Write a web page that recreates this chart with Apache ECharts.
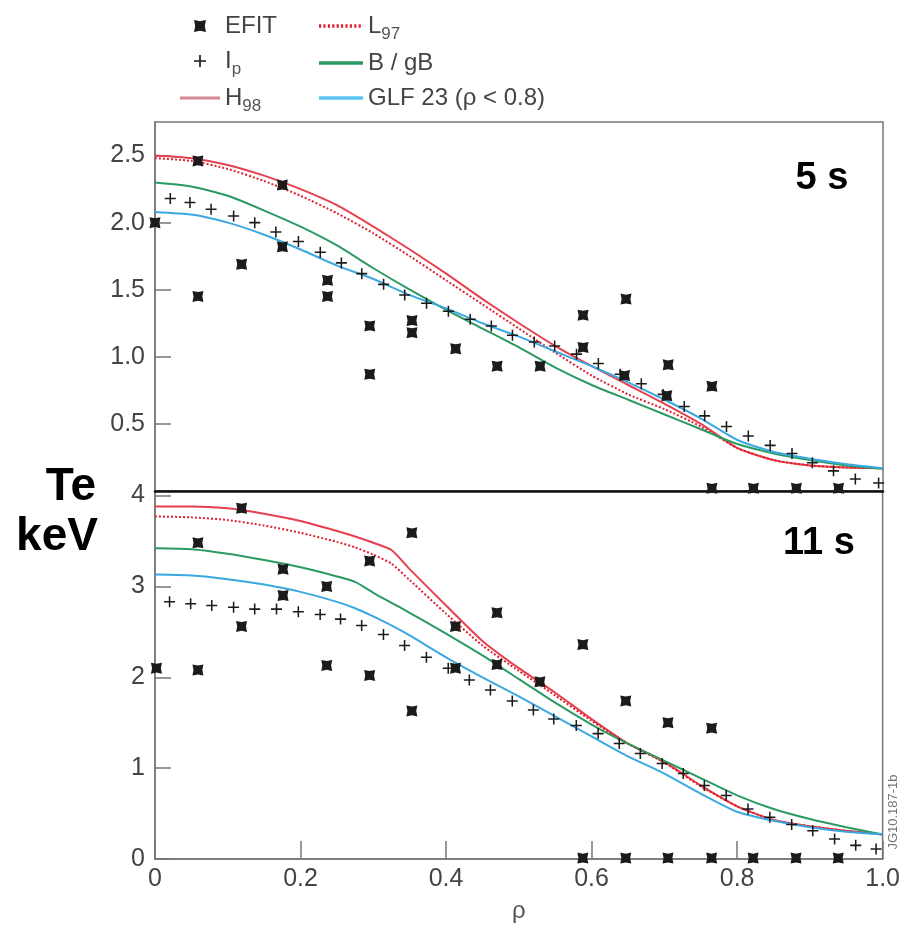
<!DOCTYPE html>
<html>
<head>
<meta charset="utf-8">
<script src="https://cdn.jsdelivr.net/npm/echarts@6.0.0/dist/echarts.min.js"></script>
<style>
    html,body{margin:0;padding:0;background:#fff;}
    #chart{width:903px;height:930px;}
</style>
</head>
<body>
<div id="chart"></div>
<script>
// x ticks
let rho_ticks = [0, 0.2, 0.4, 0.6, 0.8, 1.0]

// 5 s panel (top)
let rho_5 = [0,0.05,0.1,0.15,0.2,0.25,0.3,0.35,0.4,0.45,0.5,0.55,0.6,0.65,0.7,0.75,0.8,0.85,0.9,0.95,1.0]
let h98_5 = [2.50,2.48,2.43,2.35,2.25,2.13,1.97,1.80,1.62,1.43,1.25,1.08,0.93,0.79,0.65,0.50,0.32,0.23,0.19,0.175,0.17]
let l97_5 = [2.48,2.46,2.40,2.31,2.20,2.07,1.92,1.75,1.57,1.39,1.21,1.03,0.86,0.72,0.61,0.48,0.32,0.23,0.19,0.175,0.17]
let bgb_5 = [2.30,2.27,2.20,2.09,1.97,1.83,1.66,1.50,1.35,1.21,1.07,0.92,0.79,0.68,0.57,0.46,0.35,0.28,0.23,0.19,0.165]
let glf_5 = [2.08,2.06,2.00,1.91,1.80,1.68,1.58,1.46,1.36,1.25,1.15,1.04,0.93,0.81,0.68,0.54,0.38,0.29,0.24,0.20,0.17]

let efit_rho_5 = [0.0,0.059,0.059,0.119,0.175,0.175,0.237,0.237,0.295,0.295,0.353,0.353,0.413,0.470,0.529,0.588,0.588,0.647,0.645,0.705,0.703,0.765,0.765,0.822,0.881,0.939]
let efit_5 = [2.00,2.46,1.45,1.69,2.28,1.82,1.57,1.45,1.23,0.87,1.27,1.18,1.06,0.93,0.93,1.31,1.07,1.43,0.86,0.94,0.71,0.78,0.02,0.02,0.02,0.02]

let ip_rho_5 = [0.021,0.048,0.077,0.108,0.137,0.166,0.197,0.227,0.256,0.284,0.314,0.343,0.373,0.403,0.433,0.462,0.491,0.521,0.549,0.579,0.609,0.639,0.668,0.698,0.727,0.755,0.785,0.815,0.845,0.875,0.903,0.932,0.962,0.994]
let ip_5 = [2.18,2.15,2.10,2.05,2.00,1.93,1.86,1.78,1.70,1.62,1.54,1.46,1.40,1.34,1.28,1.23,1.16,1.11,1.08,1.02,0.95,0.87,0.80,0.72,0.63,0.56,0.48,0.41,0.34,0.28,0.21,0.15,0.09,0.06]

// 11 s panel (bottom)
let rho_11 = [0,0.05,0.1,0.15,0.2,0.25,0.275,0.3,0.325,0.35,0.4,0.45,0.5,0.55,0.6,0.65,0.7,0.75,0.8,0.85,0.9,0.95,1.0]
let h98_11 = [3.88,3.88,3.86,3.80,3.72,3.61,3.55,3.48,3.40,3.19,2.79,2.40,2.10,1.83,1.54,1.27,1.07,0.81,0.58,0.43,0.36,0.31,0.27]
let l97_11 = [3.77,3.76,3.73,3.67,3.59,3.49,3.43,3.35,3.25,3.07,2.70,2.35,2.07,1.80,1.52,1.27,1.06,0.80,0.58,0.43,0.36,0.31,0.27]
let bgb_11 = [3.42,3.41,3.36,3.29,3.21,3.11,3.05,2.93,2.82,2.71,2.48,2.24,1.98,1.72,1.48,1.27,1.08,0.89,0.70,0.55,0.44,0.35,0.27]
let glf_11 = [3.13,3.12,3.08,3.02,2.94,2.83,2.76,2.67,2.57,2.46,2.22,2.00,1.79,1.57,1.35,1.13,0.94,0.72,0.52,0.42,0.35,0.30,0.27]

let efit_rho_11 = [0.002,0.059,0.059,0.119,0.119,0.176,0.176,0.236,0.236,0.295,0.295,0.353,0.353,0.413,0.413,0.470,0.470,0.529,0.588,0.647,0.705,0.765,0.588,0.647,0.705,0.765,0.822,0.881,0.939]
let efit_11 = [2.10,3.48,2.08,3.86,2.56,3.19,2.90,3.00,2.13,3.28,2.02,3.59,1.63,2.56,2.10,2.71,2.14,1.95,2.36,1.74,1.50,1.44,0.01,0.01,0.01,0.01,0.01,0.01,0.01]

let ip_rho_11 = [0.020,0.049,0.078,0.108,0.137,0.167,0.197,0.227,0.255,0.284,0.314,0.343,0.373,0.403,0.432,0.461,0.491,0.520,0.548,0.579,0.609,0.638,0.667,0.697,0.726,0.755,0.785,0.815,0.845,0.875,0.904,0.934,0.963,0.991]
let ip_11 = [2.83,2.81,2.79,2.77,2.75,2.75,2.72,2.69,2.64,2.57,2.47,2.35,2.22,2.10,1.97,1.86,1.74,1.64,1.54,1.47,1.38,1.27,1.16,1.05,0.94,0.81,0.70,0.55,0.46,0.38,0.31,0.22,0.15,0.11]

let sym_efit = 'path://M0,0 L5,1 L10,0 L9,5 L10,10 L5,9 L0,10 L1,5 Z'
let sym_ip = 'path://M4.3,0 h1.4 v4.3 h4.3 v1.4 h-4.3 v4.3 h-1.4 v-4.3 h-4.3 v-1.4 h4.3 Z'
// legend line icons (filled thin bars)
let icon_line = 'path://M0,0 h40 v3 h-40 Z'
let icon_dot = 'path://' + [0,4,8,12,16,20,24,28,32,36].map(x => `M${x},0 h2 v3 h-2 Z`).join(' ') + ' M39.9,0 h0.1 v3 h-0.1 Z'

let colors = {
    h98: '#e6404e',
    l97: '#e0202f',
    bgb: '#2b9a62',
    glf: '#3aa9e2',
}

function pairs(xs, ys){
    return xs.map((x, i) => [x, ys[i]])
}

function line_series(name, xs, ys, idx, color, type){
    return {
        name: name,
        type: 'line',
        xAxisIndex: idx,
        yAxisIndex: idx,
        data: pairs(xs, ys),
        showSymbol: false,
        symbol: 'none',
        smooth: 0.2,
        lineStyle: {color: color, width: 2, type: type || 'solid'},
        itemStyle: {color: color},
        z: 2
    }
}

function scatter_series(name, xs, ys, idx, symbol, size){
    return {
        name: name,
        type: 'scatter',
        xAxisIndex: idx,
        yAxisIndex: idx,
        data: pairs(xs, ys),
        symbol: symbol,
        symbolSize: size,
        itemStyle: {color: '#1b1b1b', opacity: 1},
        z: 4
    }
}

let font = '"Liberation Sans", Arial, sans-serif'
let legend_names = {
    'EFIT': 'EFIT',
    'Ip': '{m|I}{s|p}',
    'H98': '{m|H}{s|98}',
    'L97': '{m|L}{s|97}',
    'B/gB': 'B / gB',
    'GLF': 'GLF 23 (ρ < 0.8)'
}
let legend_text = {
    fontSize: 24,
    color: '#444',
    fontFamily: font,
    lineHeight: 30,
    rich: {
        m: {fontSize: 24, color: '#444', fontFamily: font, lineHeight: 30},
        s: {fontSize: 17, color: '#555', fontFamily: font, padding: [17, 0, 0, 0]}
    }
}

function y_axis(idx, max, interval){
    return {
        type: 'value',
        gridIndex: idx,
        min: 0,
        max: max,
        interval: interval,
        axisLine: {show: true, lineStyle: {color: '#777', width: 1.5}},
        axisTick: {show: true, inside: true, length: 16, lineStyle: {color: '#777', width: 1.5}},
        axisLabel: {
            fontSize: 25, color: '#444', fontFamily: font, margin: 10,
            showMinLabel: idx == 1, showMaxLabel: false,
            formatter: v => idx == 0 ? v.toFixed(1) : String(v)
        },
        splitLine: {show: false}
    }
}

var mychart = echarts.init(document.getElementById('chart'))
mychart.setOption({
    animation: false,
    backgroundColor: '#fff',
    grid: [
        {left: 155, right: 20, top: 122, height: 369, show: true, borderColor: '#777', borderWidth: 1.5},
        {left: 155, right: 20, top: 491, height: 368, show: true, borderColor: '#777', borderWidth: 1.5}
    ],
    legend: [
        {
            orient: 'vertical', left: 175, top: 6, itemGap: 5,
            itemWidth: 40, itemHeight: 12,
            data: [
                {name: 'EFIT', icon: sym_efit},
                {name: 'Ip', icon: sym_ip},
                {name: 'H98', icon: icon_line, itemStyle: {color: '#d48a96'}}
            ],
            formatter: n => legend_names[n],
            textStyle: legend_text,
            selectedMode: false
        },
        {
            orient: 'vertical', left: 314, top: 6, itemGap: 5,
            itemWidth: 44, itemHeight: 12,
            data: [
                {name: 'L97', icon: icon_dot},
                {name: 'B/gB', icon: icon_line},
                {name: 'GLF', icon: icon_line, itemStyle: {color: '#5cc6f0'}}
            ],
            formatter: n => legend_names[n],
            textStyle: legend_text,
            selectedMode: false
        }
    ],
    xAxis: [
        {
            type: 'value', gridIndex: 0, min: 0, max: 1, interval: 0.2,
            axisLine: {show: true, lineStyle: {color: '#111', width: 2.5}},
            axisTick: {show: false},
            axisLabel: {show: false},
            splitLine: {show: false}
        },
        {
            type: 'value', gridIndex: 1, min: 0, max: 1, interval: 0.2,
            axisLine: {show: true, lineStyle: {color: '#777', width: 1.5}},
            axisTick: {show: true, inside: true, length: 18, lineStyle: {color: '#777', width: 1.5}},
            axisLabel: {
                fontSize: 25, color: '#444', fontFamily: font, margin: 8,
                formatter: v => v == 0 ? '0' : v.toFixed(1)
            },
            splitLine: {show: false},
            name: 'ρ',
            nameLocation: 'middle',
            nameGap: 40,
            nameTextStyle: {fontSize: 24, color: '#555', fontFamily: font}
        }
    ],
    yAxis: [y_axis(0, 2.75, 0.5), y_axis(1, 4.05, 1)],
    series: [
        line_series('H98', rho_5, h98_5, 0, colors.h98),
        line_series('L97', rho_5, l97_5, 0, colors.l97, 'dotted'),
        line_series('B/gB', rho_5, bgb_5, 0, colors.bgb),
        line_series('GLF', rho_5, glf_5, 0, colors.glf),
        scatter_series('EFIT', efit_rho_5, efit_5, 0, sym_efit, 11),
        scatter_series('Ip', ip_rho_5, ip_5, 0, sym_ip, 11),

        line_series('H98', rho_11, h98_11, 1, colors.h98),
        line_series('L97', rho_11, l97_11, 1, colors.l97, 'dotted'),
        line_series('B/gB', rho_11, bgb_11, 1, colors.bgb),
        line_series('GLF', rho_11, glf_11, 1, colors.glf),
        scatter_series('EFIT', efit_rho_11, efit_11, 1, sym_efit, 11),
        scatter_series('Ip', ip_rho_11, ip_11, 1, sym_ip, 11)
    ],
    graphic: [
        {type: 'text', x: 71, y: 487, style: {text: 'Te', font: 'bold 46px ' + font, fill: '#000', align: 'center', verticalAlign: 'middle'}},
        {type: 'text', x: 57, y: 537, style: {text: 'keV', font: 'bold 46px ' + font, fill: '#000', align: 'center', verticalAlign: 'middle'}},
        {type: 'text', x: 822, y: 179, style: {text: '5 s', font: 'bold 38px ' + font, fill: '#000', align: 'center', verticalAlign: 'middle'}},
        {type: 'text', x: 819, y: 544, style: {text: '11 s', font: 'bold 38px ' + font, fill: '#000', align: 'center', verticalAlign: 'middle'}},
        {type: 'text', x: 893, y: 812, rotation: Math.PI / 2, style: {text: 'JG10.187-1b', font: '13px ' + font, fill: '#777', align: 'center', verticalAlign: 'middle'}}
    ]
})
</script>
</body>
</html>
